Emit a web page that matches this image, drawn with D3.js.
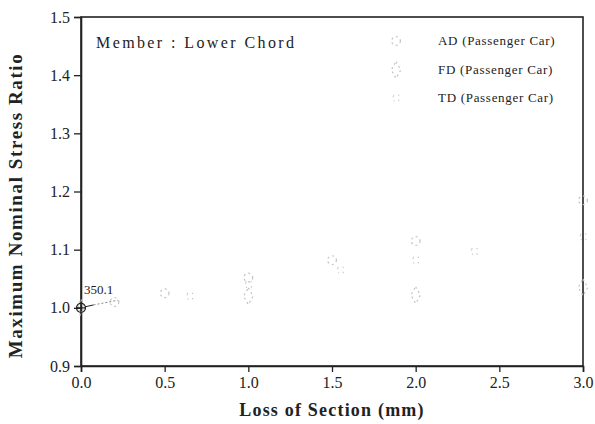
<!DOCTYPE html>
<html>
<head>
<meta charset="utf-8">
<script src="https://cdn.jsdelivr.net/npm/d3@7"></script>
<style>
  html, body { margin: 0; padding: 0; background: #fff; }
  svg { display: block; }
  text { font-family: "Liberation Serif", "Times New Roman", serif; fill: #222; }
</style>
</head>
<body>
<svg id="chart" width="595" height="424"></svg>
<script>
// Loss of section (mm) vs. maximum nominal stress ratio, lower chord member
const xTicks = [0.0, 0.5, 1.0, 1.5, 2.0, 2.5, 3.0];
const yTicks = [0.9, 1.0, 1.1, 1.2, 1.3, 1.4, 1.5];

const adLoss  = [0.0, 0.2, 0.5, 1.0, 1.5, 2.0, 3.0];
const adRatio = [1.0, 1.01, 1.025, 1.052, 1.082, 1.115, 1.185];

const fdLoss  = [0.0, 1.0, 2.0, 3.0];
const fdRatio = [1.0, 1.02, 1.022, 1.035];

const tdLoss  = [0.0, 0.65, 1.0, 1.55, 2.0, 2.35, 3.0];
const tdRatio = [1.0, 1.02, 1.04, 1.065, 1.082, 1.097, 1.122];

const seriesNames = ["AD (Passenger Car)", "FD (Passenger Car)", "TD (Passenger Car)"];
const noteLabel = "350.1";
const memberLabel = "Member : Lower Chord";

const svg = d3.select("#chart");
const margin = { left: 81, right: 12, top: 17, bottom: 58 };
const W = 595, H = 424;

const x = d3.scaleLinear().domain([0, 3]).range([margin.left, W - margin.right]);
const y = d3.scaleLinear().domain([0.9, 1.5]).range([H - margin.bottom, margin.top]);

// frame
svg.append("rect")
  .attr("x", x(0)).attr("y", y(1.5))
  .attr("width", x(3) - x(0)).attr("height", y(0.9) - y(1.5))
  .attr("fill", "none").attr("stroke", "#222").attr("stroke-width", 1.6);

// axes
const fmt = d3.format(".1f");
const xAxis = svg.append("g")
  .attr("transform", `translate(0,${y(0.9)})`)
  .call(d3.axisBottom(x).tickValues(xTicks).tickFormat(fmt).tickSize(6).tickPadding(5));
const yAxis = svg.append("g")
  .attr("transform", `translate(${x(0)},0)`)
  .call(d3.axisLeft(y).tickValues(yTicks).tickFormat(fmt).tickSize(7).tickPadding(4));
[xAxis, yAxis].forEach(g => {
  g.attr("font-family", "Liberation Serif, serif");
  g.select(".domain").attr("stroke", "#222").attr("stroke-width", 1.6);
  g.selectAll(".tick line").attr("stroke", "#222").attr("stroke-width", 1.3);
  g.selectAll(".tick text").attr("font-size", 16).attr("fill", "#333");
});

// axis titles
svg.append("text")
  .attr("x", (x(0) + x(3)) / 2).attr("y", 416)
  .attr("text-anchor", "middle").attr("font-size", 18).attr("font-weight", "bold")
  .attr("letter-spacing", 1.2)
  .text("Loss of Section (mm)");
svg.append("text")
  .attr("transform", `translate(22,${(y(0.9) + y(1.5)) / 2 + 14}) rotate(-90)`)
  .attr("text-anchor", "middle").attr("font-size", 19).attr("font-weight", "bold")
  .attr("letter-spacing", 1.6)
  .text("Maximum Nominal Stress Ratio");

// member label
svg.append("text")
  .attr("x", 96).attr("y", 48)
  .attr("font-size", 16).attr("letter-spacing", 2.4)
  .text(memberLabel);

const faint = "#c2c2c2";
const symCircle = d3.symbol().type(d3.symbolCircle).size(60);
const symDiamond = d3.symbol().type(d3.symbolDiamond).size(80);
const symSquare = d3.symbol().type(d3.symbolSquare).size(30);

function drawSeries(xs, ys, shape, dash) {
  svg.append("g").selectAll("path")
    .data(xs.map((v, i) => [v, ys[i]]))
    .join("path")
    .attr("transform", d => `translate(${x(d[0])},${y(d[1])})`)
    .attr("d", shape)
    .attr("fill", "none")
    .attr("stroke", faint)
    .attr("stroke-width", 1.2)
    .attr("stroke-dasharray", dash);
}
drawSeries(adLoss, adRatio, symCircle, "2,3");
drawSeries(fdLoss, fdRatio, symDiamond, "2,3");
drawSeries(tdLoss, tdRatio, symSquare, "1,4");

// origin marker and leader to annotation
svg.append("circle").attr("cx", x(0)).attr("cy", y(1.0)).attr("r", 4.5)
  .attr("fill", "none").attr("stroke", "#222").attr("stroke-width", 1.2);
svg.append("line")
  .attr("x1", x(0) - 4).attr("x2", x(0) + 4).attr("y1", y(1.0)).attr("y2", y(1.0))
  .attr("stroke", "#222").attr("stroke-width", 1.2);
svg.append("line")
  .attr("x1", x(0) + 4).attr("y1", y(1.0) - 1)
  .attr("x2", x(0.075)).attr("y2", y(1.005))
  .attr("stroke", "#222").attr("stroke-width", 1);
svg.append("line")
  .attr("x1", x(0.075)).attr("y1", y(1.005))
  .attr("x2", x(0.22)).attr("y2", y(1.013))
  .attr("stroke", "#888").attr("stroke-width", 1).attr("stroke-dasharray", "2,2");
svg.append("text")
  .attr("x", x(0) + 3).attr("y", y(1.0) - 14)
  .attr("font-size", 13).text(noteLabel);

// legend
const legendY = [41, 70, 98];
const legendShapes = [symCircle, symDiamond, symSquare];
const legendDash = ["2,3", "2,3", "1,4"];
seriesNames.forEach((name, i) => {
  svg.append("path")
    .attr("transform", `translate(396,${legendY[i]})`)
    .attr("d", legendShapes[i])
    .attr("fill", "none").attr("stroke", faint).attr("stroke-width", 1.2)
    .attr("stroke-dasharray", legendDash[i]);
  svg.append("text")
    .attr("x", 438).attr("y", legendY[i] + 4)
    .attr("font-size", 13).attr("letter-spacing", 0.7)
    .text(name);
});
</script>
</body>
</html>
